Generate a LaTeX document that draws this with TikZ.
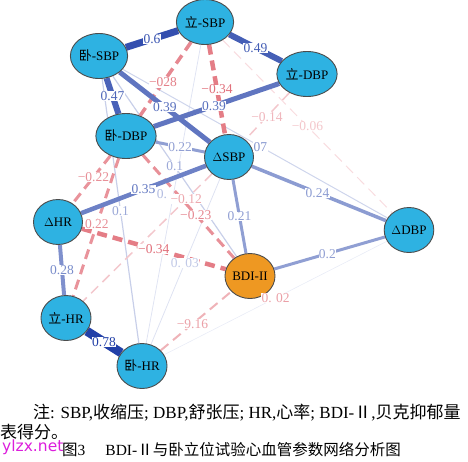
\documentclass[tikz,border=0pt]{standalone}
\usepackage{fontspec}
\setmainfont{Liberation Serif}
\newfontfamily\cjk{Noto Sans CJK SC}
\newfontfamily\wmfont{DejaVu Sans}
\usetikzlibrary{shapes.geometric,backgrounds}
\definecolor{nodeblue}{RGB}{46,178,226}
\definecolor{nodeorange}{RGB}{238,152,34}
\definecolor{eblue}{RGB}{34,64,168}
\definecolor{ered}{RGB}{222,96,108}
\definecolor{wmmag}{RGB}{220,30,220}

\begin{document}
\begin{tikzpicture}[x=1pt,y=-1pt,
    vnode/.style={ellipse,draw=black!70,line width=0.9pt,fill=nodeblue,minimum width=49pt,minimum height=45pt,inner sep=0pt,font=\fontsize{13}{13}\selectfont},
    bedge/.style={line cap=butt},
    redge/.style={line cap=butt,dash pattern=on 10pt off 6pt},
    lab/.style={fill=white,inner sep=0.4pt,font=\fontsize{13.5}{13.5}\selectfont}]
    \useasboundingbox (0,0) rectangle (468,461);

    % variables
    \node[vnode] (wsbp) at (99,56) {{\cjk 卧}-SBP};
    \node[vnode] (lsbp) at (205,22) {{\cjk 立}-SBP};
    \node[vnode] (ldbp) at (307,74) {{\cjk 立}-DBP};
    \node[vnode] (wdbp) at (126,136) {{\cjk 卧}-DBP};
    \node[vnode] (dsbp) at (229,157) {$\Delta$SBP};
    \node[vnode] (dhr) at (58,222) {$\Delta$HR};
    \node[vnode] (ddbp) at (409,230) {$\Delta$DBP};
    \node[vnode,fill=nodeorange] (bdi) at (250,276) {BDI-II};
    \node[vnode] (lhr) at (66,318) {{\cjk 立}-HR};
    \node[vnode] (whr) at (142,366) {{\cjk 卧}-HR};

    \begin{pgfonlayer}{background}
    % weak edges
    \draw[bedge,line width=0.6pt,draw=eblue!10] (whr) -- coordinate (c02) (ddbp);
    \draw[bedge,line width=0.8pt,draw=eblue!15] (dsbp) -- coordinate[pos=.51] (c03) (whr);
    \draw[bedge,line width=0.8pt,draw=eblue!14] (lsbp) -- coordinate (c00) (whr);
    \draw[bedge,line width=1pt,draw=eblue!22] (wsbp) -- coordinate[pos=.52] (c07) (ddbp);
    \draw[bedge,line width=1.2pt,draw=eblue!25] (wsbp) -- coordinate (c10a) (bdi);
    \draw[bedge,line width=1.2pt,draw=eblue!25] (wsbp) -- coordinate (c10b) (whr);
    \draw[redge,line width=1pt,draw=ered!22] (lsbp) -- coordinate (m06) (ddbp);
    \draw[redge,line width=1.5pt,draw=ered!35] (ldbp) -- coordinate[pos=.51] (m14) (dsbp);
    \draw[redge,line width=1.5pt,draw=ered!35] (dsbp) -- coordinate[pos=.2] (m12) (lhr);
    \draw[redge,line width=2pt,draw=ered!48] (whr) -- coordinate[pos=.45] (m16) (bdi);

    % negative edges
    \draw[redge,line width=3pt,draw=ered!68] (wdbp) -- coordinate[pos=.45] (m22a) (dhr);
    \draw[redge,line width=3pt,draw=ered!68] (wdbp) -- coordinate[pos=.48] (m22b) (lhr);
    \draw[redge,line width=3pt,draw=ered!70] (wdbp) -- coordinate[pos=.58] (m23) (bdi);
    \draw[redge,line width=3.5pt,draw=ered!75] (lsbp) -- coordinate[pos=.55] (m28) (wdbp);
    \draw[redge,line width=4.5pt,draw=ered!82] (lsbp) -- coordinate (m34a) (dsbp);
    \draw[redge,line width=4.5pt,draw=ered!82] (dhr) -- coordinate (m34b) (bdi);

    % positive edges
    \draw[bedge,line width=3pt,draw=eblue!50] (bdi) -- coordinate[pos=.48] (c20) (ddbp);
    \draw[bedge,line width=3pt,draw=eblue!50] (dsbp) -- coordinate (c21) (bdi);
    \draw[bedge,line width=3pt,draw=eblue!50] (wdbp) -- coordinate (c22) (dsbp);
    \draw[bedge,line width=3.5pt,draw=eblue!52] (dsbp) -- coordinate[pos=.49] (c24) (ddbp);
    \draw[bedge,line width=4pt,draw=eblue!58] (dhr) -- coordinate (c28) (lhr);
    \draw[bedge,line width=4.5pt,draw=eblue!66] (dsbp) -- coordinate (c35) (dhr);
    \draw[bedge,line width=5pt,draw=eblue!72] (ldbp) -- coordinate[pos=.52] (c39a) (wdbp);
    \draw[bedge,line width=5pt,draw=eblue!72] (wsbp) -- coordinate (c39b) (dsbp);
    \draw[bedge,line width=6pt,draw=eblue!82] (wsbp) -- coordinate (c47) (wdbp);
    \draw[bedge,line width=6pt,draw=eblue!84] (lsbp) -- coordinate (c49) (ldbp);
    \draw[bedge,line width=7pt,draw=eblue!92] (wsbp) -- coordinate (c60) (lsbp);
    \draw[bedge,line width=9pt,draw=eblue] (lhr) -- coordinate (c78) (whr);
    \end{pgfonlayer}

    % edge weights
    \node[lab,text=ered!60] at (c02) {0. 02};
    \node[lab,text=eblue!28] at (c03) {0. 03};
    \node[lab,text=eblue!35,anchor=east,xshift=-6] at (c00) {0.};
    \node[lab,text=eblue!55] at (c07) {07};
    \node[lab,text=eblue!45] at (c10a) {0.1};
    \node[lab,text=eblue!45] at (c10b) {0.1};
    \node[lab,text=ered!35] at (m06) {−0.06};
    \node[lab,text=ered!45] at (m14) {−0.14};
    \node[lab,text=ered!55] at (m12) {−0.12};
    \node[lab,text=ered!60] at (m16) {−9.16};
    \node[lab,text=ered!70] at (m22a) {−0.22};
    \node[lab,text=ered!70] at (m22b) {0.22};
    \node[lab,text=ered!75] at (m23) {−0.23};
    \node[lab,text=ered!80] at (m28) {−028};
    \node[lab,text=ered!90] at (m34a) {−0.34};
    \node[lab,text=ered!90] at (m34b) {−0.34};
    \node[lab,text=eblue!50] at (c20) {0.2};
    \node[lab,text=eblue!50] at (c21) {0.21};
    \node[lab,text=eblue!50] at (c22) {0.22};
    \node[lab,text=eblue!52] at (c24) {0.24};
    \node[lab,text=eblue!60] at (c28) {0.28};
    \node[lab,text=eblue!70] at (c35) {0.35};
    \node[lab,text=eblue!75] at (c39a) {0.39};
    \node[lab,text=eblue!75] at (c39b) {0.39};
    \node[lab,text=eblue!80] at (c47) {0.47};
    \node[lab,text=eblue!85] at (c49) {0.49};
    \node[lab,text=eblue!90] at (c60) {0.6};
    \node[lab,text=eblue] at (c78) {0.78};

    % note and caption
    \node[anchor=west,inner sep=0pt,font=\fontsize{17}{17}\selectfont] (note1) at (33,413)
        {{\cjk 注}: SBP,{\cjk 收缩压}; DBP,{\cjk 舒张压}; HR,{\cjk 心率}; BDI-{\cjk Ⅱ},{\cjk 贝克抑郁量}};
    \node[anchor=west,inner sep=0pt,font=\fontsize{17}{17}\selectfont] (note2) at (0,432) {\cjk 表得分。};
    \node[anchor=west,inner sep=0pt,font=\fontsize{15.5}{16}\selectfont] (cap) at (62,450)
        {{\cjk 图}3\hspace{20pt}BDI-{\cjk Ⅱ与卧立位试验心血管参数网络分析图}};
    \node[anchor=west,inner sep=0pt,text=wmmag,font=\wmfont\fontsize{15.5}{16}\selectfont] (wm) at (2,447) {ylzx.net};
\end{tikzpicture}
\end{document}
